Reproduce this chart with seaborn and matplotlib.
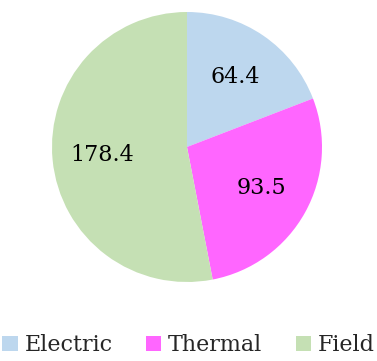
import matplotlib
matplotlib.use("Agg")
import matplotlib.pyplot as plt
import seaborn as sns
from matplotlib.patches import Patch

categories = ["Electric", "Thermal", "Field"]
values = [64.4, 93.5, 178.4]
colors = ["#bdd7ee", "#ff66ff", "#c5e0b4"]

sns.set_theme(style="white")
plt.rcParams['font.family'] = ['DejaVu Serif']

fig = plt.figure(figsize=(3.77, 3.61), dpi=100)
ax = fig.add_axes([52/377, (361-282)/361, 270/377, 270/361])
palette = sns.color_palette(colors)
ax.pie(values, colors=palette, startangle=90, counterclock=False,
       labels=None, autopct=lambda p: f"{p*sum(values)/100:.1f}",
       pctdistance=0.63, textprops={'fontsize': 16, 'color': 'black'},
       wedgeprops={'linewidth': 0})
ax.set_xlim(-1, 1)
ax.set_ylim(-1, 1)
ax.set_aspect('equal')

handles = [Patch(facecolor=c, edgecolor='none') for c in palette]
fig.legend(handles, categories, loc='lower center', bbox_to_anchor=(0.5, -0.012),
           ncol=3, frameon=False, fontsize=16, handlelength=0.7, handleheight=0.7,
           handletextpad=0.3, columnspacing=1.5, borderaxespad=0)
fig.savefig("out.png", dpi=100)
